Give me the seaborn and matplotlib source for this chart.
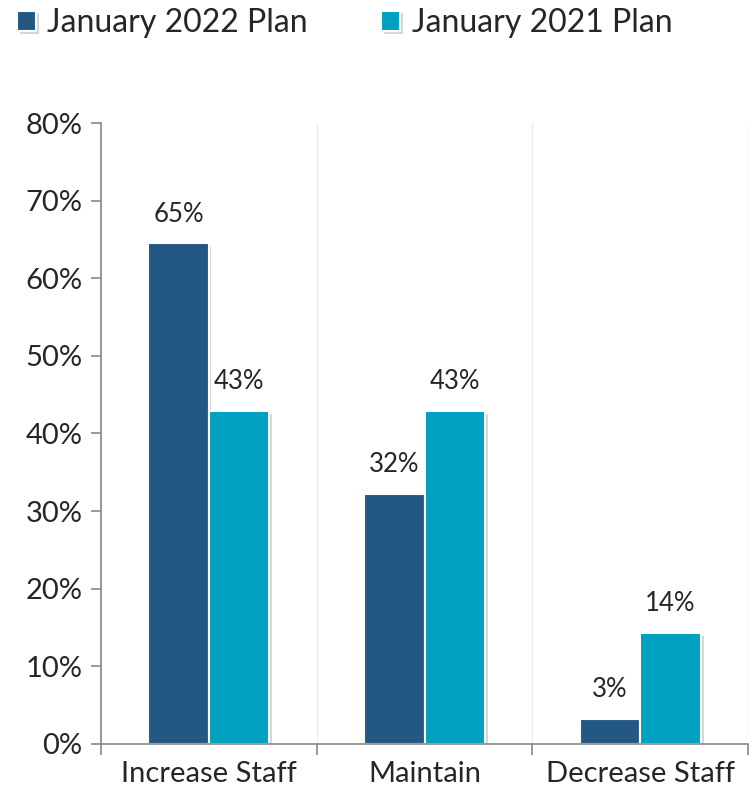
import pandas as pd
import matplotlib.pyplot as plt
import matplotlib.patheffects as pe
import seaborn as sns

categories = ['Increase Staff', 'Maintain', 'Decrease Staff']
series_names = ['January 2022 Plan', 'January 2021 Plan']
values_2022 = [64.5, 32.2, 3.2]
values_2021 = [42.9, 42.9, 14.3]
labels_2022 = ['65%', '32%', '3%']
labels_2021 = ['43%', '43%', '14%']
y_ticks = [0, 10, 20, 30, 40, 50, 60, 70, 80]

sns.set_style('white')
plt.rcParams['font.family'] = ['Lato', 'DejaVu Sans']

df = pd.DataFrame({
    'category': categories * 2,
    'plan': [series_names[0]] * 3 + [series_names[1]] * 3,
    'value': values_2022 + values_2021,
})

fig = plt.figure(figsize=(7.52, 7.99), dpi=100)
ax = fig.add_axes([0.134, 0.069, 0.861, 0.777])

sns.barplot(data=df, x='category', y='value', hue='plan',
            palette=['#245884', '#00A0C0'], saturation=1, width=0.56,
            edgecolor='white', linewidth=1.5, ax=ax, legend=True)

for patch in ax.patches:
    patch.set_path_effects([pe.SimplePatchShadow(offset=(2, -2), alpha=0.18),
                            pe.Normal()])

for container, labels in zip(ax.containers, [labels_2022, labels_2021]):
    ax.bar_label(container, labels=labels, padding=12, fontsize=18.5)

ax.set_ylim(0, 80)
ax.set_xlim(-0.5, 2.5)
ax.set_yticks(y_ticks)
ax.set_yticklabels([f'{v}%' for v in y_ticks], fontsize=21)
ax.tick_params(axis='y', length=7, color='#888888', width=1.2, pad=6, left=True)
ax.set_xticks(range(3))
ax.set_xticklabels(categories, fontsize=21)
ax.set_xticks([-0.5, 0.5, 1.5, 2.5], minor=True)
ax.tick_params(axis='x', which='major', length=0, pad=12)
ax.tick_params(axis='x', which='minor', length=8, color='#888888', width=1.2, bottom=True)
ax.grid(axis='x', which='minor', color='#ececec', linewidth=1)
ax.set_xlabel('')
ax.set_ylabel('')

for side in ['top', 'right']:
    ax.spines[side].set_visible(False)
for side in ['left', 'bottom']:
    ax.spines[side].set_color('#888888')
    ax.spines[side].set_linewidth(1.2)

handles, lbls = ax.get_legend_handles_labels()
ax.legend(handles, lbls, loc='upper left', bbox_to_anchor=(0.018, 0.994),
          bbox_transform=fig.transFigure, ncol=2, frameon=False,
          fontsize=23, handlelength=0.6, handleheight=0.6, handletextpad=0.35,
          columnspacing=2.3, borderpad=0.1, borderaxespad=0)

fig.savefig('out.png', dpi=100)
